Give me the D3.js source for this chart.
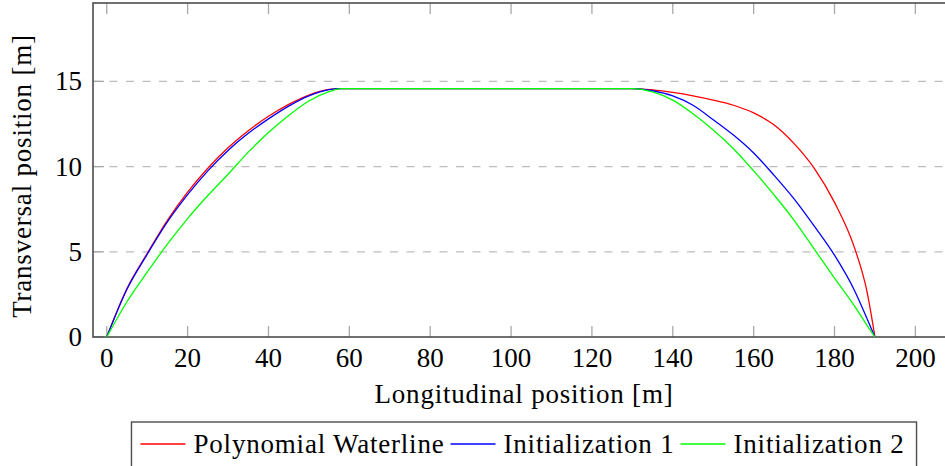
<!DOCTYPE html>
<html>
<head>
<meta charset="utf-8">
<script src="https://cdn.jsdelivr.net/npm/d3@7"></script>
<style>
  body { margin: 0; background: #fff; }
  svg text { font-family: "Liberation Serif", "DejaVu Serif", serif; fill: #000; }
  svg text.lbl { letter-spacing: 0.8px; }
</style>
</head>
<body>
<script>
// sample positions along the hull [m]
const xs = [0, 5, 10, 15, 20, 25, 30, 35, 40, 45, 50, 55, 58, 60, 70, 80, 90, 100, 110, 120, 130,
            135, 140, 145, 150, 155, 160, 165, 170, 175, 180, 185, 188, 190];

const polynomial = [0, 2.85, 4.9, 6.85, 8.5, 9.9, 11.1, 12.1, 12.95, 13.65, 14.2, 14.53, 14.58, 14.58,
                    14.58, 14.58, 14.58, 14.58, 14.58, 14.58, 14.58,
                    14.5, 14.35, 14.15, 13.9, 13.6, 13.15, 12.45, 11.35, 9.9, 7.9, 5.2, 2.7, 0];
const init1 = [0, 2.8, 4.85, 6.75, 8.35, 9.75, 10.95, 11.95, 12.8, 13.55, 14.15, 14.52, 14.58, 14.58,
               14.58, 14.58, 14.58, 14.58, 14.58, 14.58, 14.58,
               14.45, 14.15, 13.6, 12.75, 11.85, 10.8, 9.5, 8.1, 6.5, 4.8, 2.7, 1.1, 0];
const init2 = [0, 2.07, 3.8, 5.45, 6.95, 8.3, 9.55, 10.85, 12.0, 13.0, 13.85, 14.4, 14.57, 14.58,
               14.58, 14.58, 14.58, 14.58, 14.58, 14.58, 14.58,
               14.38, 13.9, 13.1, 12.15, 11.05, 9.75, 8.35, 6.85, 5.15, 3.45, 1.8, 0.7, 0];

const seriesNames = ["Polynomial Waterline", "Initialization 1", "Initialization 2"];
const seriesColors = ["#ff0000", "#0000ff", "#00ff00"];
const xTicks = [0, 20, 40, 60, 80, 100, 120, 140, 160, 180, 200];
const yTicks = [0, 5, 10, 15];

const W = 945, H = 466;
const margin = { left: 93, top: 3, right: -10, bottom: 129 };

const svg = d3.select("body").append("svg")
    .attr("width", W)
    .attr("height", H);

const x = d3.scaleLinear().domain([-3.4, 209.8]).range([margin.left, W - margin.right]);
const y = d3.scaleLinear().domain([0, 19.6]).range([H - margin.bottom, margin.top]);

const fs = 27;

// grid
svg.append("g").selectAll("line")
    .data(yTicks.filter(d => d > 0))
    .enter().append("line")
    .attr("x1", x.range()[0]).attr("x2", x.range()[1])
    .attr("y1", d => y(d)).attr("y2", d => y(d))
    .attr("stroke", "#bdbdbd").attr("stroke-width", 1.2)
    .attr("stroke-dasharray", "8,8.5");

// ticks (inside, on all sides)
const tickLen = 11;
const tickG = svg.append("g").attr("stroke", "#a8a8a8").attr("stroke-width", 1.3);
xTicks.forEach(t => {
    tickG.append("line").attr("x1", x(t)).attr("x2", x(t)).attr("y1", y.range()[0]).attr("y2", y.range()[0] - tickLen);
    tickG.append("line").attr("x1", x(t)).attr("x2", x(t)).attr("y1", y.range()[1]).attr("y2", y.range()[1] + tickLen);
});
yTicks.forEach(t => {
    tickG.append("line").attr("x1", x.range()[0]).attr("x2", x.range()[0] + tickLen).attr("y1", y(t)).attr("y2", y(t));
});

// frame
svg.append("rect")
    .attr("x", x.range()[0]).attr("y", y.range()[1])
    .attr("width", x.range()[1] - x.range()[0])
    .attr("height", y.range()[0] - y.range()[1])
    .attr("fill", "none").attr("stroke", "#4d4d4d").attr("stroke-width", 1.6);

// tick labels
svg.append("g").selectAll("text")
    .data(xTicks).enter().append("text")
    .attr("x", d => x(d)).attr("y", 367)
    .attr("text-anchor", "middle")
    .style("font-size", fs + "px")
    .text(d => d);

svg.append("g").selectAll("text")
    .data(yTicks).enter().append("text")
    .attr("x", 82).attr("y", d => y(d) + 9)
    .attr("text-anchor", "end")
    .style("font-size", fs + "px")
    .text(d => d);

// axis titles
svg.append("text")
    .attr("class", "lbl")
    .attr("x", (x.range()[0] + x.range()[1]) / 2).attr("y", 403)
    .attr("text-anchor", "middle")
    .style("font-size", fs + "px")
    .text("Longitudinal position [m]");

svg.append("text")
    .attr("class", "lbl")
    .attr("transform", "translate(31," + ((y.range()[0] + y.range()[1]) / 2 + 6) + ") rotate(-90)")
    .attr("text-anchor", "middle")
    .style("font-size", fs + "px")
    .text("Transversal position [m]");

// curves
const allSeries = [polynomial, init1, init2];
const line = d3.line()
    .x(d => x(d[0]))
    .y(d => y(d[1]))
    .curve(d3.curveMonotoneX);

const plot = svg.append("g");
allSeries.forEach((vals, i) => {
    plot.append("path")
        .datum(xs.map((xv, j) => [xv, vals[j]]))
        .attr("fill", "none")
        .attr("stroke", seriesColors[i])
        .attr("stroke-width", 1.3)
        .attr("d", line);
});

// legend
const legend = svg.append("g");
const legBox = legend.append("rect")
    .attr("fill", "#fff").attr("stroke", "#4d4d4d").attr("stroke-width", 1.4);
let cx = 9;
const items = legend.selectAll("g.item")
    .data(seriesNames).enter().append("g").attr("class", "item");
items.each(function (name, i) {
    const g = d3.select(this);
    g.append("line")
        .attr("x1", cx).attr("x2", cx + 45)
        .attr("y1", 22).attr("y2", 22)
        .attr("stroke", seriesColors[i]).attr("stroke-width", 1.3);
    const t = g.append("text")
        .attr("class", "lbl")
        .attr("x", cx + 53).attr("y", 31)
        .style("font-size", fs + "px")
        .text(name);
    cx += 53 + t.node().getComputedTextLength() + 6;
});
const legW = cx + 6;
legBox.attr("x", 0).attr("y", 0).attr("width", legW).attr("height", 60);
legend.attr("transform", "translate(" + ((x.range()[0] + x.range()[1]) / 2 - legW / 2) + ",422)");
</script>
</body>
</html>
